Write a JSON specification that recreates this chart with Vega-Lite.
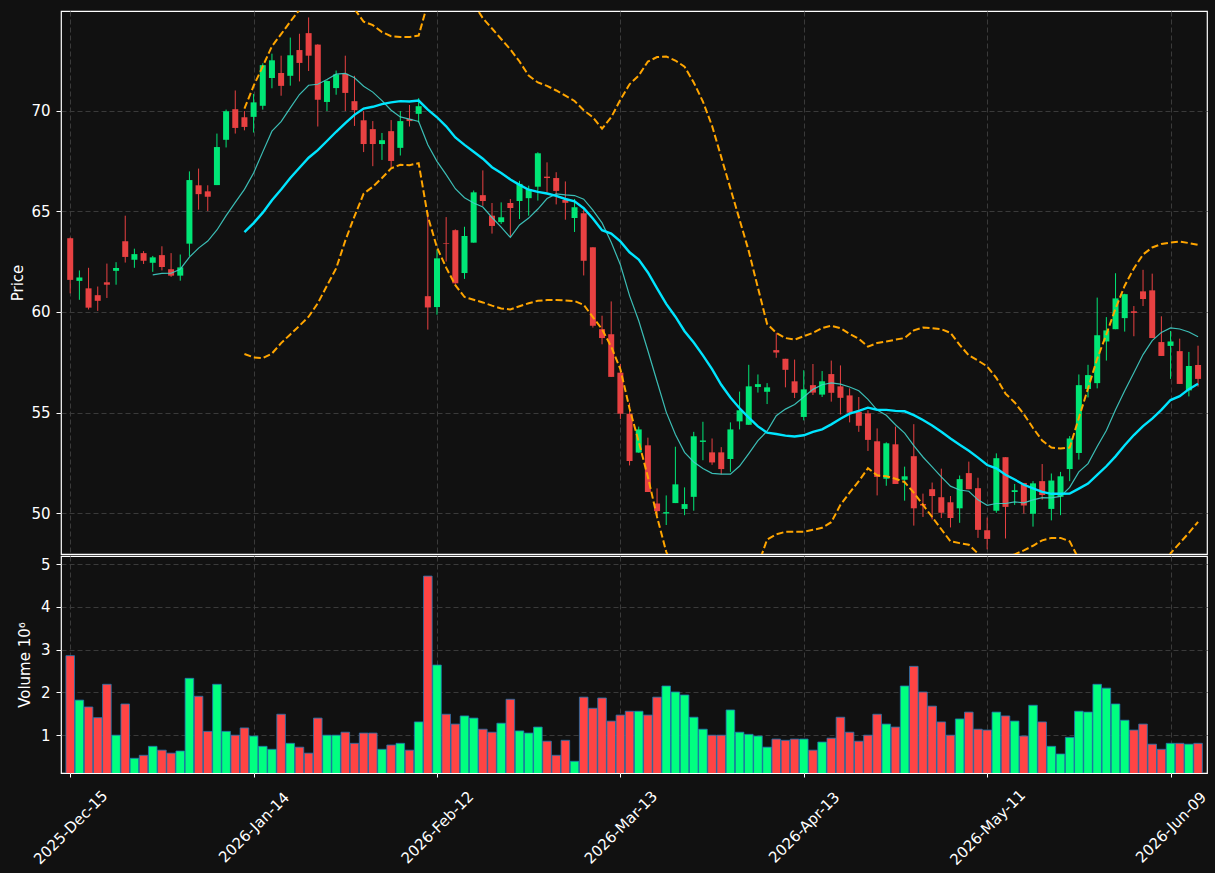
{
"$schema":"https://vega.github.io/schema/vega-lite/v6.json",
"background":"#111111",
"padding":{"left":9,"top":10,"right":5,"bottom":5},
"spacing":0,
"data":{"values":[
{"i":0,"o":63.66,"h":63.7,"l":60.92,"c":61.59,"v":2.86},
{"i":1,"o":61.54,"h":62.06,"l":60.6,"c":61.71,"v":1.82},
{"i":2,"o":61.17,"h":62.19,"l":60.12,"c":60.21,"v":1.66},
{"i":3,"o":60.83,"h":61.26,"l":60.05,"c":60.55,"v":1.41},
{"i":4,"o":61.47,"h":62.4,"l":60.69,"c":61.35,"v":2.19},
{"i":5,"o":62.04,"h":62.47,"l":61.35,"c":62.18,"v":1.0},
{"i":6,"o":63.51,"h":64.78,"l":62.45,"c":62.73,"v":1.73},
{"i":7,"o":62.59,"h":63.14,"l":62.19,"c":62.87,"v":0.46},
{"i":8,"o":62.92,"h":63.02,"l":62.38,"c":62.54,"v":0.53},
{"i":9,"o":62.44,"h":62.78,"l":61.99,"c":62.71,"v":0.74,"m10":61.84},
{"i":10,"o":62.82,"h":63.26,"l":62.06,"c":62.23,"v":0.65,"m10":61.91},
{"i":11,"o":62.12,"h":62.92,"l":61.74,"c":61.8,"v":0.58,"m10":61.92},
{"i":12,"o":61.8,"h":62.85,"l":61.55,"c":62.21,"v":0.63,"m10":62.12},
{"i":13,"o":63.39,"h":66.98,"l":62.76,"c":66.55,"v":2.33,"m10":62.72},
{"i":14,"o":66.29,"h":67.12,"l":65.08,"c":65.85,"v":1.91,"m10":63.17},
{"i":15,"o":65.99,"h":66.29,"l":65.01,"c":65.72,"v":1.09,"m10":63.52},
{"i":16,"o":66.3,"h":68.86,"l":66.3,"c":68.19,"v":2.19,"m10":64.07},
{"i":17,"o":68.55,"h":70.05,"l":68.17,"c":69.97,"v":1.09,"m10":64.78},
{"i":18,"o":70.07,"h":71.0,"l":68.86,"c":69.14,"v":1.0,"m10":65.44},
{"i":19,"o":69.67,"h":69.98,"l":69.02,"c":69.19,"v":1.17,"m10":66.09,"m20":63.96,"up":70.1,"lo":57.91},
{"i":20,"o":69.69,"h":70.83,"l":68.91,"c":70.41,"v":0.98,"m10":66.9,"m20":64.41,"up":71.23,"lo":57.74},
{"i":21,"o":70.24,"h":72.35,"l":70.05,"c":72.26,"v":0.74,"m10":67.95,"m20":64.93,"up":72.2,"lo":57.7},
{"i":22,"o":71.62,"h":72.83,"l":71.11,"c":72.5,"v":0.67,"m10":68.98,"m20":65.55,"up":73.2,"lo":57.93},
{"i":23,"o":71.87,"h":72.73,"l":70.74,"c":71.23,"v":1.49,"m10":69.45,"m20":66.08,"up":73.8,"lo":58.45},
{"i":24,"o":71.73,"h":73.63,"l":71.24,"c":72.75,"v":0.81,"m10":70.14,"m20":66.65,"up":74.42,"lo":58.88},
{"i":25,"o":73.01,"h":73.82,"l":71.45,"c":72.37,"v":0.72,"m10":70.8,"m20":67.16,"up":75.01,"lo":59.31},
{"i":26,"o":73.85,"h":74.63,"l":71.97,"c":72.73,"v":0.58,"m10":71.26,"m20":67.66,"up":75.56,"lo":59.76},
{"i":27,"o":73.28,"h":73.3,"l":69.21,"c":70.54,"v":1.4,"m10":71.31,"m20":68.04,"up":75.65,"lo":60.43},
{"i":28,"o":70.43,"h":71.5,"l":69.98,"c":71.47,"v":1.0,"m10":71.55,"m20":68.49,"up":75.68,"lo":61.3},
{"i":29,"o":71.12,"h":71.99,"l":70.79,"c":71.8,"v":1.0,"m10":71.81,"m20":68.95,"up":75.74,"lo":62.16},
{"i":30,"o":71.83,"h":72.73,"l":69.98,"c":70.88,"v":1.07,"m10":71.85,"m20":69.38,"up":75.22,"lo":63.54},
{"i":31,"o":70.47,"h":71.73,"l":69.24,"c":70.02,"v":0.81,"m10":71.63,"m20":69.79,"up":75.05,"lo":64.75},
{"i":32,"o":69.52,"h":69.98,"l":67.94,"c":68.34,"v":1.05,"m10":71.21,"m20":70.1,"up":74.42,"lo":65.87},
{"i":33,"o":69.08,"h":69.48,"l":67.24,"c":68.34,"v":1.05,"m10":70.92,"m20":70.19,"up":74.25,"lo":66.22},
{"i":34,"o":68.34,"h":68.89,"l":67.55,"c":68.53,"v":0.67,"m10":70.5,"m20":70.32,"up":73.9,"lo":66.65},
{"i":35,"o":68.98,"h":69.53,"l":67.17,"c":67.5,"v":0.77,"m10":70.02,"m20":70.41,"up":73.7,"lo":67.13},
{"i":36,"o":68.15,"h":69.98,"l":67.77,"c":69.48,"v":0.81,"m10":69.69,"m20":70.47,"up":73.66,"lo":67.31},
{"i":37,"o":69.59,"h":70.28,"l":69.21,"c":69.48,"v":0.65,"m10":69.58,"m20":70.45,"up":73.66,"lo":67.29},
{"i":38,"o":69.84,"h":70.62,"l":69.41,"c":70.22,"v":1.31,"m10":69.46,"m20":70.5,"up":73.73,"lo":67.39},
{"i":39,"o":60.78,"h":64.96,"l":59.12,"c":60.22,"v":4.72,"m10":68.3,"m20":70.05,"up":75.35,"lo":64.75},
{"i":40,"o":60.24,"h":63.09,"l":59.86,"c":62.66,"v":2.64,"m10":67.48,"m20":69.67,"up":76.14,"lo":63.2},
{"i":41,"o":63.42,"h":64.71,"l":62.5,"c":63.39,"v":1.49,"m10":66.82,"m20":69.22,"up":76.24,"lo":62.2},
{"i":42,"o":64.06,"h":64.1,"l":61.4,"c":61.42,"v":1.26,"m10":66.12,"m20":68.67,"up":76.01,"lo":61.33},
{"i":43,"o":61.93,"h":64.23,"l":61.64,"c":63.77,"v":1.45,"m10":65.67,"m20":68.3,"up":75.86,"lo":60.74},
{"i":44,"o":63.44,"h":66.03,"l":63.44,"c":65.94,"v":1.4,"m10":65.41,"m20":67.96,"up":75.32,"lo":60.6},
{"i":45,"o":65.8,"h":67.03,"l":65.27,"c":65.51,"v":1.14,"m10":65.21,"m20":67.61,"up":74.59,"lo":60.47},
{"i":46,"o":64.78,"h":65.41,"l":63.89,"c":64.27,"v":1.07,"m10":64.69,"m20":67.19,"up":74.08,"lo":60.31},
{"i":47,"o":64.46,"h":65.44,"l":64.37,"c":64.7,"v":1.28,"m10":64.21,"m20":66.9,"up":73.56,"lo":60.17},
{"i":48,"o":65.41,"h":65.61,"l":63.75,"c":65.16,"v":1.84,"m10":63.7,"m20":66.58,"up":73.04,"lo":60.12},
{"i":49,"o":65.51,"h":66.51,"l":64.61,"c":66.36,"v":1.1,"m10":64.32,"m20":66.31,"up":72.44,"lo":60.28},
{"i":50,"o":65.65,"h":66.27,"l":64.78,"c":66.1,"v":1.05,"m10":64.66,"m20":66.07,"up":71.74,"lo":60.43},
{"i":51,"o":66.22,"h":67.93,"l":65.53,"c":67.88,"v":1.19,"m10":65.11,"m20":65.96,"up":71.4,"lo":60.55},
{"i":52,"o":66.72,"h":67.43,"l":65.96,"c":66.65,"v":0.86,"m10":65.63,"m20":65.88,"up":71.23,"lo":60.59},
{"i":53,"o":66.65,"h":66.94,"l":65.34,"c":66.01,"v":0.53,"m10":65.86,"m20":65.76,"up":71.0,"lo":60.59},
{"i":54,"o":65.56,"h":66.48,"l":64.58,"c":65.42,"v":0.88,"m10":65.81,"m20":65.61,"up":70.74,"lo":60.57},
{"i":55,"o":64.66,"h":65.61,"l":63.97,"c":65.2,"v":0.39,"m10":65.78,"m20":65.49,"up":70.48,"lo":60.54},
{"i":56,"o":64.9,"h":65.09,"l":61.81,"c":62.54,"v":1.89,"m10":65.6,"m20":65.15,"up":70.02,"lo":60.35},
{"i":57,"o":63.21,"h":63.21,"l":59.22,"c":59.31,"v":1.63,"m10":65.06,"m20":64.64,"up":69.67,"lo":59.74},
{"i":58,"o":59.14,"h":59.81,"l":58.39,"c":58.7,"v":1.87,"m10":64.42,"m20":64.06,"up":69.1,"lo":59.14},
{"i":59,"o":58.89,"h":60.52,"l":56.77,"c":56.77,"v":1.33,"m10":63.46,"m20":63.89,"up":69.67,"lo":58.27},
{"i":60,"o":56.98,"h":57.41,"l":54.68,"c":54.94,"v":1.47,"m10":62.34,"m20":63.5,"up":70.54,"lo":57.15},
{"i":61,"o":54.94,"h":55.48,"l":52.37,"c":52.59,"v":1.56,"m10":60.81,"m20":62.96,"up":71.31,"lo":55.2},
{"i":62,"o":53.01,"h":54.3,"l":53.0,"c":54.16,"v":1.56,"m10":59.56,"m20":62.6,"up":71.74,"lo":53.55},
{"i":63,"o":53.37,"h":53.75,"l":51.05,"c":51.05,"v":1.47,"m10":58.07,"m20":61.96,"up":72.44,"lo":51.8},
{"i":64,"o":50.48,"h":51.23,"l":49.9,"c":50.1,"v":1.89,"m10":56.54,"m20":61.17,"up":72.66,"lo":49.81},
{"i":65,"o":49.98,"h":50.88,"l":49.41,"c":50.05,"v":2.15,"m10":55.02,"m20":60.4,"up":72.69,"lo":48.08},
{"i":66,"o":50.5,"h":53.3,"l":50.5,"c":51.43,"v":2.01,"m10":53.91,"m20":59.76,"up":72.49,"lo":47.03},
{"i":67,"o":50.21,"h":51.28,"l":49.9,"c":50.45,"v":1.94,"m10":53.02,"m20":59.04,"up":72.18,"lo":45.9},
{"i":68,"o":50.81,"h":54.04,"l":50.12,"c":53.82,"v":1.42,"m10":52.54,"m20":58.48,"up":71.4,"lo":45.56},
{"i":69,"o":53.54,"h":54.54,"l":52.63,"c":53.61,"v":1.14,"m10":52.22,"m20":57.84,"up":70.45,"lo":45.23},
{"i":70,"o":53.02,"h":53.71,"l":52.4,"c":52.52,"v":1.0,"m10":51.98,"m20":57.16,"up":69.24,"lo":45.08},
{"i":71,"o":53.02,"h":53.28,"l":51.93,"c":52.19,"v":1.0,"m10":51.94,"m20":56.38,"up":67.69,"lo":45.07},
{"i":72,"o":52.69,"h":54.51,"l":52.05,"c":54.16,"v":1.59,"m10":51.94,"m20":55.75,"up":66.13,"lo":45.37},
{"i":73,"o":54.56,"h":56.04,"l":54.16,"c":55.11,"v":1.07,"m10":52.34,"m20":55.21,"up":64.58,"lo":45.84},
{"i":74,"o":54.39,"h":57.37,"l":54.39,"c":56.3,"v":1.02,"m10":52.96,"m20":54.75,"up":63.02,"lo":46.48},
{"i":75,"o":56.27,"h":56.89,"l":55.99,"c":56.41,"v":0.98,"m10":53.6,"m20":54.31,"up":61.2,"lo":47.4},
{"i":76,"o":56.03,"h":56.46,"l":55.42,"c":56.25,"v":0.72,"m10":54.08,"m20":54.0,"up":59.4,"lo":48.69},
{"i":77,"o":58.1,"h":58.96,"l":57.72,"c":57.98,"v":0.91,"m10":54.84,"m20":53.93,"up":58.96,"lo":48.95},
{"i":78,"o":57.67,"h":57.67,"l":56.25,"c":57.12,"v":0.88,"m10":55.17,"m20":53.85,"up":58.7,"lo":49.07},
{"i":79,"o":56.55,"h":57.63,"l":55.72,"c":55.98,"v":0.91,"m10":55.4,"m20":53.81,"up":58.62,"lo":49.08},
{"i":80,"o":54.78,"h":57.1,"l":54.61,"c":56.15,"v":0.91,"m10":55.77,"m20":53.87,"up":58.79,"lo":49.08},
{"i":81,"o":56.36,"h":57.41,"l":55.87,"c":55.99,"v":0.65,"m10":56.15,"m20":54.04,"up":58.96,"lo":49.17},
{"i":82,"o":55.89,"h":57.06,"l":55.77,"c":56.55,"v":0.84,"m10":56.38,"m20":54.16,"up":59.2,"lo":49.27},
{"i":83,"o":56.91,"h":57.58,"l":55.54,"c":55.98,"v":0.93,"m10":56.47,"m20":54.41,"up":59.31,"lo":49.55},
{"i":84,"o":56.3,"h":57.34,"l":54.9,"c":55.73,"v":1.42,"m10":56.41,"m20":54.69,"up":59.19,"lo":50.41},
{"i":85,"o":55.85,"h":56.2,"l":54.51,"c":54.99,"v":1.07,"m10":56.27,"m20":54.94,"up":58.91,"lo":51.02},
{"i":86,"o":55.03,"h":55.77,"l":54.04,"c":54.34,"v":0.86,"m10":56.08,"m20":55.08,"up":58.67,"lo":51.59},
{"i":87,"o":54.96,"h":55.11,"l":53.09,"c":53.64,"v":1.0,"m10":55.65,"m20":55.24,"up":58.27,"lo":52.23},
{"i":88,"o":53.57,"h":54.21,"l":50.88,"c":51.8,"v":1.49,"m10":55.12,"m20":55.14,"up":58.45,"lo":51.88},
{"i":89,"o":51.71,"h":53.52,"l":51.36,"c":53.47,"v":1.26,"m10":54.86,"m20":55.13,"up":58.53,"lo":51.83},
{"i":90,"o":53.42,"h":54.3,"l":51.45,"c":51.45,"v":1.19,"m10":54.39,"m20":55.08,"up":58.62,"lo":51.71},
{"i":91,"o":51.66,"h":52.31,"l":50.62,"c":51.83,"v":2.15,"m10":53.98,"m20":55.06,"up":58.7,"lo":51.54},
{"i":92,"o":52.83,"h":54.42,"l":49.38,"c":50.24,"v":2.61,"m10":53.35,"m20":54.87,"up":59.08,"lo":51.02},
{"i":93,"o":50.45,"h":50.97,"l":49.81,"c":50.38,"v":2.01,"m10":52.79,"m20":54.63,"up":59.22,"lo":50.41},
{"i":94,"o":51.19,"h":51.52,"l":49.69,"c":50.85,"v":1.68,"m10":52.3,"m20":54.36,"up":59.19,"lo":49.81},
{"i":95,"o":50.79,"h":52.21,"l":49.76,"c":50.02,"v":1.31,"m10":51.8,"m20":54.04,"up":59.14,"lo":49.2},
{"i":96,"o":50.54,"h":50.85,"l":49.29,"c":49.76,"v":1.0,"m10":51.34,"m20":53.71,"up":58.96,"lo":48.6},
{"i":97,"o":50.24,"h":51.87,"l":49.52,"c":51.69,"v":1.38,"m10":51.15,"m20":53.4,"up":58.36,"lo":48.51},
{"i":98,"o":51.99,"h":52.56,"l":51.19,"c":51.19,"v":1.54,"m10":51.09,"m20":53.1,"up":57.84,"lo":48.43},
{"i":99,"o":51.24,"h":51.76,"l":48.77,"c":49.17,"v":1.14,"m10":50.66,"m20":52.76,"up":57.58,"lo":47.99},
{"i":100,"o":49.15,"h":49.78,"l":48.2,"c":48.72,"v":1.12,"m10":50.39,"m20":52.39,"up":57.29,"lo":47.49},
{"i":101,"o":50.12,"h":52.97,"l":50.02,"c":52.73,"v":1.54,"m10":50.48,"m20":52.23,"up":56.72,"lo":47.74},
{"i":102,"o":52.78,"h":52.78,"l":48.74,"c":50.31,"v":1.45,"m10":50.48,"m20":51.91,"up":55.94,"lo":47.88},
{"i":103,"o":51.05,"h":51.45,"l":50.41,"c":51.14,"v":1.33,"m10":50.56,"m20":51.67,"up":55.5,"lo":47.95},
{"i":104,"o":51.5,"h":51.5,"l":49.98,"c":50.38,"v":0.98,"m10":50.51,"m20":51.41,"up":54.92,"lo":48.15},
{"i":105,"o":49.97,"h":51.59,"l":49.33,"c":51.48,"v":1.7,"m10":50.66,"m20":51.23,"up":54.23,"lo":48.38},
{"i":106,"o":51.59,"h":52.44,"l":50.67,"c":50.9,"v":1.31,"m10":50.77,"m20":51.06,"up":53.61,"lo":48.65},
{"i":107,"o":50.21,"h":51.97,"l":49.64,"c":51.62,"v":0.74,"m10":50.76,"m20":50.96,"up":53.26,"lo":48.77},
{"i":108,"o":50.81,"h":52.05,"l":49.9,"c":51.83,"v":0.56,"m10":50.83,"m20":50.96,"up":53.21,"lo":48.77},
{"i":109,"o":52.19,"h":53.83,"l":51.59,"c":53.71,"v":0.95,"m10":51.28,"m20":50.97,"up":53.26,"lo":48.6},
{"i":110,"o":52.99,"h":56.89,"l":52.66,"c":56.36,"v":1.56,"m10":52.05,"m20":51.22,"up":54.73,"lo":47.71},
{"i":111,"o":56.17,"h":57.37,"l":55.75,"c":56.86,"v":1.54,"m10":52.46,"m20":51.47,"up":56.2,"lo":46.74},
{"i":112,"o":56.46,"h":60.71,"l":56.2,"c":58.84,"v":2.19,"m10":53.31,"m20":51.9,"up":57.67,"lo":46.13},
{"i":113,"o":58.53,"h":59.74,"l":57.58,"c":59.08,"v":2.1,"m10":54.11,"m20":52.33,"up":58.88,"lo":45.78},
{"i":114,"o":59.14,"h":61.92,"l":59.14,"c":60.67,"v":1.73,"m10":55.14,"m20":52.82,"up":60.17,"lo":45.47},
{"i":115,"o":59.69,"h":60.9,"l":59.02,"c":60.88,"v":1.35,"m10":56.08,"m20":53.37,"up":61.3,"lo":45.44},
{"i":116,"o":60.03,"h":60.29,"l":58.79,"c":59.95,"v":1.12,"m10":56.98,"m20":53.88,"up":62.16,"lo":45.6},
{"i":117,"o":61.02,"h":62.09,"l":60.29,"c":60.64,"v":1.26,"m10":57.88,"m20":54.32,"up":62.85,"lo":45.79},
{"i":118,"o":61.07,"h":61.9,"l":58.7,"c":58.7,"v":0.79,"m10":58.57,"m20":54.7,"up":63.2,"lo":46.2},
{"i":119,"o":58.5,"h":59.78,"l":57.81,"c":57.81,"v":0.67,"m10":58.98,"m20":55.13,"up":63.37,"lo":46.89},
{"i":120,"o":58.31,"h":59.05,"l":56.67,"c":58.53,"v":0.81,"m10":59.2,"m20":55.62,"up":63.45,"lo":48.0},
{"i":121,"o":58.05,"h":58.67,"l":56.42,"c":56.42,"v":0.81,"m10":59.15,"m20":55.81,"up":63.49,"lo":48.51},
{"i":122,"o":56.1,"h":58.01,"l":55.8,"c":57.31,"v":0.79,"m10":59.0,"m20":56.16,"up":63.42,"lo":49.02},
{"i":123,"o":57.36,"h":58.32,"l":56.29,"c":56.67,"v":0.81,"m10":58.76,"m20":56.43,"up":63.33,"lo":49.57}
]},
"vconcat":[
{
"width":1146,"height":543,
"encoding":{"x":{"field":"i","type":"quantitative","scale":{"domain":[-0.46,123.43],"nice":false,"zero":false},
"axis":{"values":[0,20,40,60,80,100,120],"labels":false,"ticks":false,"domain":false,"title":null,"grid":true}}},
"layer":[
{"mark":{"type":"rule","clip":true,"strokeWidth":1},
"encoding":{"y":{"field":"l","type":"quantitative","title":"Price","scale":{"domain":[47.97,74.95],"nice":false,"zero":false},
"axis":{"values":[50,55,60,65,70],"grid":true,"titleX":-43.5,"titleY":271.5,"titleAngle":-90,"titleBaseline":"middle","titleAlign":"center"}},
"y2":{"field":"h"},
"color":{"condition":{"test":"datum.c >= datum.o","value":"#00e676"},"value":"#e84142"}}},
{"mark":{"type":"bar","clip":true,"width":6},
"encoding":{"y":{"field":"o","type":"quantitative","title":"Price"},"y2":{"field":"c"},
"color":{"condition":{"test":"datum.c >= datum.o","value":"#00e676"},"value":"#e84142"}}},
{"mark":{"type":"line","clip":true,"color":"#40d0c8","strokeWidth":1.2,"opacity":0.9},
"encoding":{"y":{"field":"m10","type":"quantitative","title":"Price"}}},
{"mark":{"type":"line","clip":true,"color":"#00e5ff","strokeWidth":2.4},
"encoding":{"y":{"field":"m20","type":"quantitative","title":"Price"}}},
{"mark":{"type":"line","clip":true,"color":"#ffa500","strokeWidth":2,"strokeDash":[7,3]},
"encoding":{"y":{"field":"up","type":"quantitative","title":"Price"}}},
{"mark":{"type":"line","clip":true,"color":"#ffa500","strokeWidth":2,"strokeDash":[7,3]},
"encoding":{"y":{"field":"lo","type":"quantitative","title":"Price"}}}
]
},
{
"width":1146,"height":217,
"mark":{"type":"bar","clip":true,"width":8.6,"stroke":"#1f77b4","strokeWidth":0.8},
"encoding":{
"x":{"field":"i","type":"quantitative","scale":{"domain":[-0.46,123.43],"nice":false,"zero":false},
"axis":{"values":[0,20,40,60,80,100,120],"title":null,"grid":true,"ticks":true,"tickSize":4,"labelAngle":-45,"labelAlign":"center","labelBaseline":"middle","labelPadding":50,"labelOverlap":false,"labelFlush":false,
"labelExpr":"datum.value==0?'2025-Dec-15':datum.value==20?'2026-Jan-14':datum.value==40?'2026-Feb-12':datum.value==60?'2026-Mar-13':datum.value==80?'2026-Apr-13':datum.value==100?'2026-May-11':'2026-Jun-09'"}},
"y":{"field":"v","type":"quantitative","title":"Volume  10⁶","scale":{"domain":[0.116,5.19],"nice":false,"zero":false},
"axis":{"values":[1,2,3,4,5],"grid":true,"titleX":-37,"titleY":108.5,"titleAngle":-90,"titleBaseline":"middle","titleAlign":"center"}},
"color":{"condition":{"test":"datum.c >= datum.o","value":"#00ff80"},"value":"#ff4444"}
}
}
],
"config":{
"view":{"stroke":"#ffffff","strokeWidth":1.2,"fill":"#111111"},
"axis":{"labelColor":"#ffffff","titleColor":"#ffffff","labelFont":"DejaVu Sans","titleFont":"DejaVu Sans","labelFontSize":15,"titleFontSize":15,"titleFontWeight":"normal","gridColor":"#3a3a3a","gridDash":[5,3],"gridWidth":1,"tickColor":"#ffffff","tickSize":5,"labelPadding":6,"domain":false}
}
}
